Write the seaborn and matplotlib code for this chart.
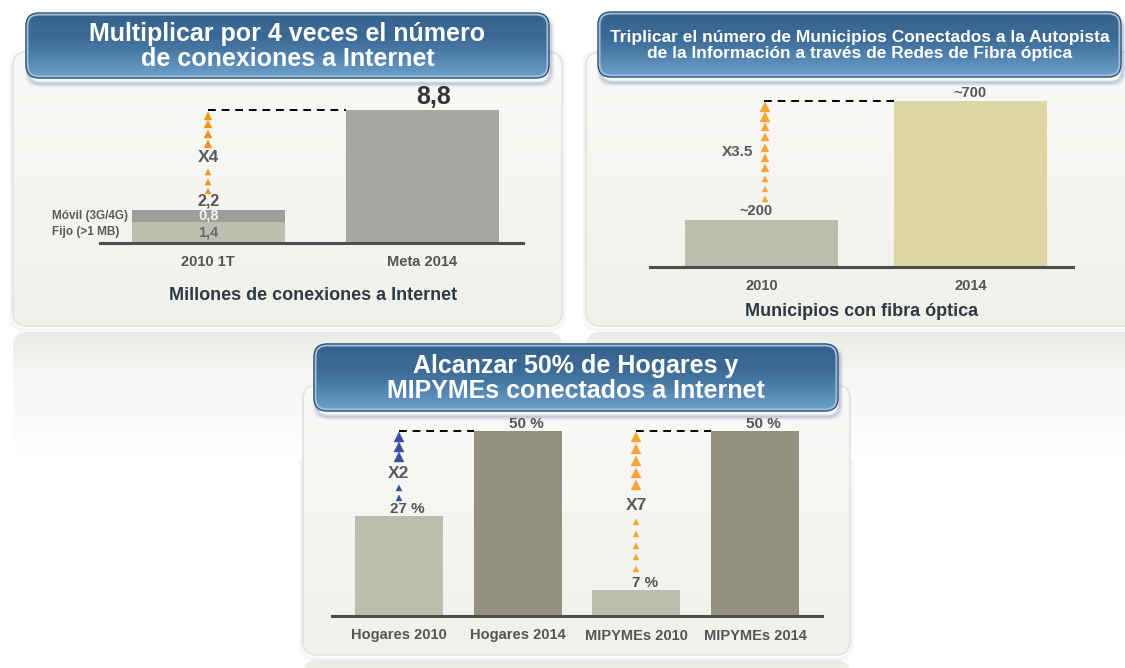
import numpy as np
import pandas as pd
import seaborn as sns
import matplotlib.pyplot as plt
from matplotlib.patches import FancyBboxPatch
import matplotlib.colors as mcolors

# ---------------- data ----------------
conex_categories = ["2010 1T", "Meta 2014"]
conex_totals = [2.2, 8.8]
conex_fijo = [1.4]
conex_movil = [0.8]
conex_labels = ["2,2", "8,8"]

muni_categories = ["2010", "2014"]
muni_values = [200, 700]
muni_labels = ["~200", "~700"]

hog_categories = ["Hogares 2010", "Hogares 2014", "MIPYMEs 2010", "MIPYMEs 2014"]
hog_values = [27, 50, 7, 50]
hog_labels = ["27 %", "50 %", "7 %", "50 %"]

titles = [
    "Multiplicar por 4 veces el número\nde conexiones a Internet",
    "Triplicar el número de Municipios Conectados a la Autopista\nde la Información a través de Redes de Fibra óptica",
    "Alcanzar 50% de Hogares y\nMIPYMEs conectados a Internet",
]
subtitles = ["Millones de conexiones a Internet", "Municipios con fibra óptica"]

# ---------------- style ----------------
sns.set_theme(style="white")
plt.rcParams['font.family'] = ['Liberation Sans Narrow', 'Liberation Sans', 'DejaVu Sans']

W, H = 1125, 668
fig = plt.figure(figsize=(W / 100, H / 100), dpi=100)
fig.patch.set_facecolor("white")

bg = fig.add_axes([0, 0, 1, 1], zorder=0)
bg.set_xlim(0, W)
bg.set_ylim(H, 0)
bg.axis("off")


def gradient_patch(ax, x0, y0, x1, y1, stops, r, z, edge=None, lw=0, alpha=1.0):
    patch = FancyBboxPatch((x0, y0), x1 - x0, y1 - y0,
                           boxstyle=f"round,pad=0,rounding_size={r}",
                           facecolor="none", edgecolor="none", zorder=z)
    ax.add_patch(patch)
    cmap = mcolors.LinearSegmentedColormap.from_list("g", stops)
    grad = np.linspace(0, 1, 256).reshape(-1, 1)
    im = ax.imshow(grad, cmap=cmap, extent=[x0, x1, y1, y0], aspect="auto",
                   zorder=z, interpolation="bicubic", alpha=alpha)
    im.set_clip_path(patch)
    if edge is not None:
        ax.add_patch(FancyBboxPatch((x0, y0), x1 - x0, y1 - y0,
                                    boxstyle=f"round,pad=0,rounding_size={r}",
                                    facecolor="none", edgecolor=edge, lw=lw, zorder=z + 0.1))


def card(x0, y0, x1, y1, fade=False):
    if fade:
        gradient_patch(bg, x0, y0, x1, y1,
                       [(0, "#e9ebe6"), (0.3, "#f5f6f3"), (1, "#ffffff")], 14, 1.2)
        return
    for i, a in enumerate([0.05, 0.04, 0.03]):
        bg.add_patch(FancyBboxPatch((x0 - 1 - i, y0 + 1 - i), x1 - x0 + 2 + 2 * i, y1 - y0 + 2 + 2 * i,
                                    boxstyle="round,pad=0,rounding_size=14",
                                    facecolor="none", edgecolor="#8a8f9a", lw=1.5, alpha=a, zorder=1))
    gradient_patch(bg, x0, y0, x1, y1, [(0, "#fafaf8"), (1, "#eff1eb")], 14, 1.2,
                   edge="#e2e3dd", lw=1.2)


def header(x0, y0, x1, y1, text, size):
    for i, a in enumerate([0.18, 0.12, 0.07, 0.04]):
        bg.add_patch(FancyBboxPatch((x0 + 2 - i, y0 + 4 - i), x1 - x0 + 2 * i, y1 - y0 + 2 * i + 2,
                                    boxstyle="round,pad=0,rounding_size=12",
                                    facecolor="none", edgecolor="#4a5a9a", lw=2, alpha=a, zorder=3))
    stops = [(0, "#33608a"), (0.28, "#3d6b95"), (0.30, "#386690"), (0.55, "#4677a3"),
             (1, "#6fa0cb")]
    gradient_patch(bg, x0, y0, x1, y1, stops, 12, 4, edge="#9cc0dc", lw=2.2)
    bg.add_patch(FancyBboxPatch((x0 - 1, y0 - 1), x1 - x0 + 2, y1 - y0 + 2,
                                boxstyle="round,pad=0,rounding_size=13",
                                facecolor="none", edgecolor="#2b4864", lw=0.9, zorder=4.2))
    bg.text((x0 + x1) / 2, (y0 + y1) / 2 + 1, text, ha="center", va="center",
            color="white", fontsize=size, fontweight="bold", linespacing=1.1, zorder=5)


def px_axes(x0, x1, ybase, ytop):
    return fig.add_axes([x0 / W, 1 - ybase / H, (x1 - x0) / W, (ybase - ytop) / H], zorder=6)


def style_axes(ax, xlim, ylim, pad):
    ax.set_xlim(*xlim)
    ax.set_ylim(*ylim)
    ax.patch.set_alpha(0)
    for s in ["left", "right", "top"]:
        ax.spines[s].set_visible(False)
    ax.spines["bottom"].set_color("#4d4d4d")
    ax.spines["bottom"].set_linewidth(2.2)
    ax.set_yticks([])
    ax.set_xlabel("")
    ax.set_ylabel("")
    ax.tick_params(axis="x", length=0, pad=pad, labelsize=10.5, labelcolor="#555555")
    for t in ax.get_xticklabels():
        t.set_fontweight("bold")


def arrow_column(ax, x, lo, hi, big_fracs, small_fracs, big_ms, small_ms, color,
                 label, label_frac, label_dx=0.0, label_ha="center", label_size=12.5):
    span = hi - lo
    yb = lo + span * np.asarray(big_fracs)
    ys = lo + span * np.asarray(small_fracs)
    bms = np.broadcast_to(np.asarray(big_ms, dtype=float), yb.shape)
    for yy, m in zip(yb, bms):
        ax.plot([x], [yy], ls="none", marker="^", ms=m, color=color, mec=color, mew=0.3,
                zorder=5, clip_on=False)
    sms = np.broadcast_to(np.asarray(small_ms, dtype=float), ys.shape)
    for yy, m in zip(ys, sms):
        ax.plot([x], [yy], ls="none", marker="^", ms=m, color=color, mec=color, mew=0.3,
                zorder=5, clip_on=False)
    ax.text(x + label_dx, lo + span * label_frac, label, ha=label_ha, va="center",
            fontsize=label_size, fontweight="bold", color="#5a5a5a", zorder=6)


# ---------------- backgrounds ----------------
card(13, 332, 562, 460, fade=True)
card(586, 332, 1140, 460, fade=True)
card(303, 660, 850, 740, fade=True)
card(13, 52, 562, 326)
card(586, 52, 1140, 326)
card(303, 385, 850, 655)

header(27, 14, 548, 77, titles[0], 18)
header(599, 13, 1120, 76, titles[1], 12.5)
header(315, 345, 837, 410, titles[2], 18)

bg.text(313, 295, subtitles[0], ha="center", va="center", fontsize=13,
        fontweight="bold", color="#2f3943", zorder=5)
bg.text(862, 311, subtitles[1], ha="center", va="center", fontsize=13,
        fontweight="bold", color="#2f3943", zorder=5)

# ---------------- panel 1 ----------------
ax1 = px_axes(100, 523, 243, 93)
df1 = pd.DataFrame({"cat": conex_categories, "total": conex_totals})
sns.barplot(data=df1, x="cat", y="total", hue="cat", order=conex_categories,
            palette=["#9d9d9d", "#a7a7a2"], width=0.715, saturation=1, legend=False,
            linewidth=0, ax=ax1)
df1b = pd.DataFrame({"cat": conex_categories[:1], "fijo": conex_fijo})
sns.barplot(data=df1b, x="cat", y="fijo", order=conex_categories, color="#bebeb0",
            width=0.715, saturation=1, linewidth=0, ax=ax1)
style_axes(ax1, (-0.505, 1.47), (0, 150 / (133 / 8.8)), 9)

ax1.text(0, conex_fijo[0] / 2, "1,4", ha="center", va="center", fontsize=10.5,
         fontweight="bold", color="#6b6b6b")
ax1.text(0, conex_fijo[0] + conex_movil[0] / 2, "0,8", ha="center", va="center", fontsize=10.5,
         fontweight="bold", color="#f4f4f4")
ax1.text(-0.73, conex_fijo[0] + conex_movil[0] / 2, "Móvil (3G/4G)", ha="left", va="center",
         fontsize=8.5, fontweight="bold", color="#5a5a5a")
ax1.text(-0.73, conex_fijo[0] / 2, "Fijo (>1 MB)", ha="left", va="center",
         fontsize=8.5, fontweight="bold", color="#5a5a5a")
ax1.annotate(conex_labels[0], (0, conex_totals[0]), xytext=(0, 1), textcoords="offset points",
             ha="center", va="bottom", fontsize=11.5, fontweight="bold", color="#555555")
ax1.annotate(conex_labels[1], (1, conex_totals[1]), xytext=(8, 1), textcoords="offset points",
             ha="center", va="bottom", fontsize=18, fontweight="bold", color="#333333")
ax1.plot([0, 1 - 0.3575], [conex_totals[1], conex_totals[1]], color="black", lw=1.4,
         ls=(0, (4, 3)), zorder=4)
arrow_column(ax1, 0, conex_totals[0], conex_totals[1], [0.94, 0.86, 0.76, 0.66],
             [0.38, 0.28, 0.19], 6.4, 4.6, "#f59422", "X4", 0.52)

# ---------------- panel 2 ----------------
ax2 = px_axes(650, 1073, 267, 77)
df2 = pd.DataFrame({"cat": muni_categories, "val": muni_values})
sns.barplot(data=df2, x="cat", y="val", hue="cat", order=muni_categories,
            palette=["#bdbdad", "#ddd6a4"], width=0.73, saturation=1, legend=False,
            linewidth=0, ax=ax2)
style_axes(ax2, (-0.532, 1.487), (0, 190 / (166 / 700)), 9)
for i, (v, lab) in enumerate(zip(muni_values, muni_labels)):
    ax2.annotate(lab, (i, v), xytext=(-4 if i == 0 else -1, 1), textcoords="offset points",
                 ha="center", va="bottom", fontsize=10.5, fontweight="bold", color="#555555")
ax2.plot([0.01, 1 - 0.365], [muni_values[1], muni_values[1]], color="black", lw=1.4,
         ls=(0, (4, 3)), zorder=4)
arrow_column(ax2, 0.017, muni_values[0], muni_values[1],
             [0.95, 0.865, 0.78, 0.695, 0.605, 0.52],
             [0.435, 0.34, 0.26, 0.175], [6.8, 6.6, 6.4, 6.2, 6.0, 5.8], [5.4, 5.0, 4.7, 4.4],
             "#f7a535", "X3.5", 0.57, label_dx=-0.055, label_ha="right", label_size=11)

# ---------------- panel 3 ----------------
ax3 = px_axes(332, 822, 616, 416)
df3 = pd.DataFrame({"cat": hog_categories, "val": hog_values})
sns.barplot(data=df3, x="cat", y="val", hue="cat", order=hog_categories,
            palette=["#bdbdad", "#94927e", "#bdbdad", "#94927e"], width=0.74, saturation=1,
            legend=False, linewidth=0, ax=ax3)
style_axes(ax3, (-0.564, 3.564), (0, 200 / 3.7), 9)
for i, (v, lab) in enumerate(zip(hog_values, hog_labels)):
    ax3.annotate(lab, (i, v), xytext=(6, 0), textcoords="offset points",
                 ha="center", va="bottom", fontsize=11, fontweight="bold", color="#555555")
w3 = 0.74 / 2
ax3.plot([0, 1 - w3], [hog_values[1], hog_values[1]], color="black", lw=1.4,
         ls=(0, (4, 3)), zorder=4)
ax3.plot([2, 3 - w3], [hog_values[3], hog_values[3]], color="black", lw=1.4,
         ls=(0, (4, 3)), zorder=4)
arrow_column(ax3, 0, hog_values[0], hog_values[1], [0.93, 0.81, 0.70], [0.33, 0.21],
             6.6, 4.4, "#3b4ea0", "X2", 0.5)
arrow_column(ax3, 2, hog_values[2], hog_values[3], [0.96, 0.885, 0.81, 0.735, 0.66],
             [0.43, 0.355, 0.28, 0.205, 0.13], 7.2, 5.0, "#f7a535", "X7", 0.53)

fig.savefig("out.png", dpi=100, facecolor="white")
